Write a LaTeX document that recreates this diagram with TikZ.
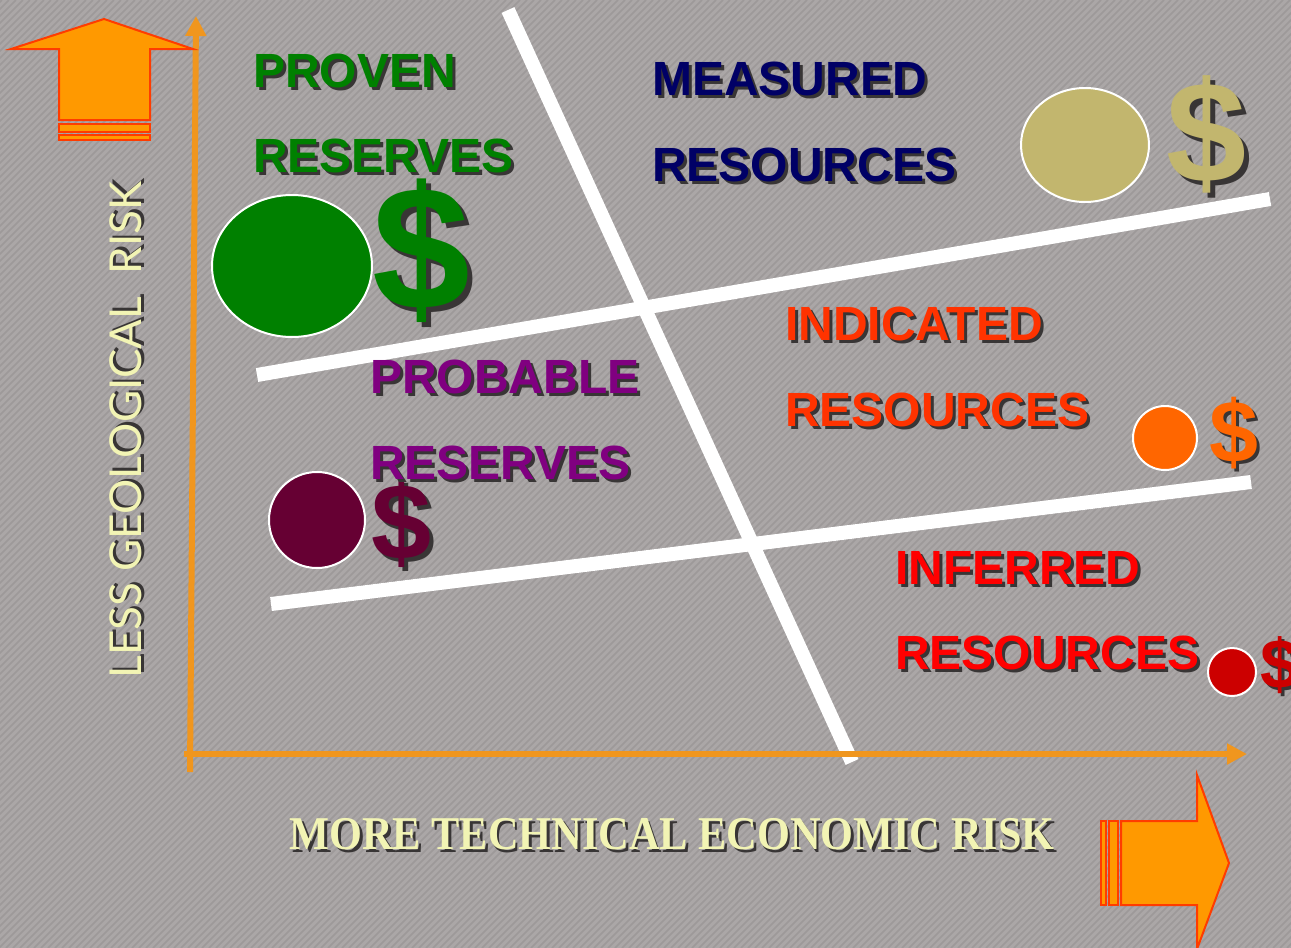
\documentclass[tikz,border=0pt]{standalone}
\usepackage{fontspec}
\setmainfont{Liberation Sans}
\newfontfamily\serifbold{Liberation Serif}
\newfontfamily\latofont{Lato}
\usetikzlibrary{arrows.meta}
\definecolor{bgray}{HTML}{ABA7A7}
\definecolor{stripecol}{HTML}{9D9999}
\definecolor{axisor}{HTML}{F0961E}
\definecolor{arrfill}{HTML}{FF9900}
\definecolor{arrline}{HTML}{FF3C00}
\definecolor{provgreen}{HTML}{008000}
\definecolor{measnavy}{HTML}{000066}
\definecolor{probpurp}{HTML}{800080}
\definecolor{indorange}{HTML}{FF3300}
\definecolor{infred}{HTML}{FF0000}
\definecolor{khaki}{HTML}{C2B66E}
\definecolor{plum}{HTML}{660033}
\definecolor{orcirc}{HTML}{FF6600}
\definecolor{redcirc}{HTML}{CC0000}
\definecolor{paleyel}{HTML}{F2F4B4}
\definecolor{shad}{HTML}{383535}
% shadowed text: #1 offset, #2 colour, #3 text
\newcommand\shadtxt[3]{\makebox[0pt][l]{\hspace{#1}\raisebox{-#1}{\color{shad}#3}}{\color{#2}#3}}
\tikzset{
  whitebar/.style={draw=white,line width=14pt},
  axisline/.style={draw=axisor,line width=6pt,-{Triangle[length=20pt,width=20pt]}},
  bigarrow/.style={fill=arrfill,draw=arrline,line width=2pt,line join=miter},
  blob/.style={draw=white,line width=2pt},
  title/.style={anchor=base west,inner sep=0pt,font=\fontsize{48}{48}\selectfont\bfseries},
  dollar/.style={anchor=center,inner sep=0pt},
  stripe/.style={draw=stripecol,line width=1.6pt}
}
\begin{document}
\begin{tikzpicture}[x=1pt,y=-1pt]
\useasboundingbox (0,0) rectangle (1291,948);
% background
\fill[bgray] (0,0) rectangle (1291,948);
\begin{scope}
\clip (0,0) rectangle (1291,948);
\foreach \i in {-960,-953,...,1291} \draw[stripe] (\i,948) -- ++(948,-948);
\end{scope}
% white bars
\coordinate (dtop) at (508,10);
\coordinate (dbot) at (852,762);
\coordinate (uleft) at (257,375);
\coordinate (uright) at (1270,199);
\coordinate (lleft) at (271,604);
\coordinate (lright) at (1251,482);
\draw[whitebar] (dtop) -- (dbot);
\draw[whitebar] (uleft) -- (uright);
\draw[whitebar] (lleft) -- (lright);
% axes
\coordinate (yaxbot) at (190,772);
\coordinate (yaxtop) at (196,16);
\coordinate (xaxleft) at (184,754);
\coordinate (xaxright) at (1247,754);
\draw[axisline] (yaxbot) -- (yaxtop);
\draw[axisline] (xaxleft) -- (xaxright);
% big arrows
\draw[bigarrow] (104,19) -- (193,49) -- (150,49) -- (150,120) -- (59,120) -- (59,49) -- (11,49) -- cycle;
\draw[bigarrow] (59,124) rectangle (150,132);
\draw[bigarrow] (59,135) rectangle (150,140);
\draw[bigarrow] (1229,863) -- (1197,949) -- (1197,905) -- (1121,905) -- (1121,821) -- (1197,821) -- (1197,775) -- cycle;
\draw[bigarrow] (1109,821) rectangle (1118,905);
\draw[bigarrow] (1101,821) rectangle (1106,905);
% circles
\draw[blob,fill=provgreen] (292,266) ellipse [x radius=80pt,y radius=71pt];
\draw[blob,fill=plum] (317,520) ellipse [x radius=48pt,y radius=48pt];
\draw[blob,fill=khaki] (1085,145) ellipse [x radius=64pt,y radius=57pt];
\draw[blob,fill=orcirc] (1165,438) ellipse [x radius=32pt,y radius=32pt];
\draw[blob,fill=redcirc] (1232,672) ellipse [x radius=24pt,y radius=24pt];
% dollar signs
\node[dollar,font=\fontsize{176}{176}\selectfont\bfseries] (dgreen) at (421,253) {\shadtxt{5pt}{provgreen}{\$}};
\node[dollar,font=\fontsize{144}{144}\selectfont\bfseries] (dkhaki) at (1207,137) {\shadtxt{5pt}{khaki}{\$}};
\node[dollar,font=\fontsize{108}{108}\selectfont\bfseries] (dplum) at (402,525) {\shadtxt{4pt}{plum}{\$}};
\node[dollar,font=\fontsize{88}{88}\selectfont\bfseries] (dorange) at (1234,435) {\shadtxt{3pt}{orcirc}{\$}};
\node[dollar,font=\fontsize{70}{70}\selectfont\bfseries] (dred) at (1280,667) {\shadtxt{3pt}{redcirc}{\$}};
% titles
\node[title] (proven) at (253,87) {\shadtxt{3pt}{provgreen}{PROVEN}};
\node[title] (provres) at (253,172) {\shadtxt{3pt}{provgreen}{RESERVES}};
\node[title] (measured) at (652,95) {\shadtxt{3pt}{measnavy}{MEASURED}};
\node[title] (measres) at (652,181) {\shadtxt{3pt}{measnavy}{RESOURCES}};
\node[title] (probable) at (370,393) {\shadtxt{3pt}{probpurp}{PROBABLE}};
\node[title] (probres) at (370,479) {\shadtxt{3pt}{probpurp}{RESERVES}};
\node[title] (indicated) at (785,340) {\shadtxt{3pt}{indorange}{INDICATED}};
\node[title] (indres) at (785,426) {\shadtxt{3pt}{indorange}{RESOURCES}};
\node[title] (inferred) at (895,584) {\shadtxt{3pt}{infred}{INFERRED}};
\node[title] (infres) at (895,669) {\shadtxt{3pt}{infred}{RESOURCES}};
% axis labels
\node[rotate=90,inner sep=0pt,font=\latofont\fontsize{44}{44}\selectfont] (ylabel) at (127,430) {\shadtxt{2.5pt}{paleyel}{LESS GEOLOGICAL\ \ RISK}};
\node[anchor=base,inner sep=0pt,font=\serifbold\bfseries\fontsize{47}{47}\selectfont] (xlabel) at (672,849) {\scalebox{0.9}[1]{\shadtxt{3pt}{paleyel}{MORE TECHNICAL ECONOMIC RISK}}};
\end{tikzpicture}
\end{document}
